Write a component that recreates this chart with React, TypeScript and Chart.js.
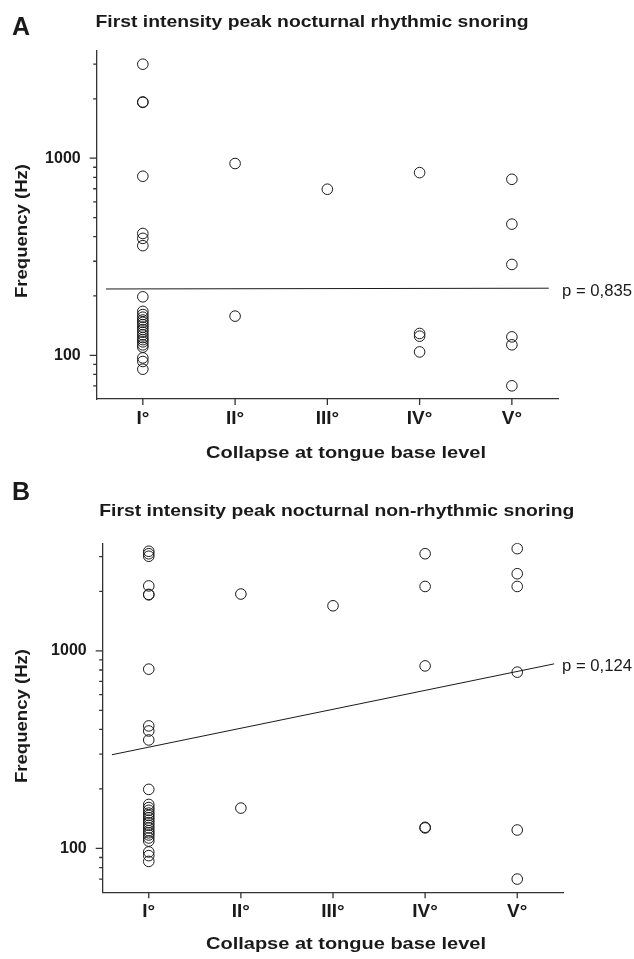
import React, { useEffect, useRef } from 'react';
import { Chart, registerables } from 'chart.js';

Chart.register(...registerables);

const FONT = '"Liberation Sans", Arial, Helvetica, sans-serif';

// Categories on the x axis (collapse grade at tongue base level)
const categories = ['I°', 'II°', 'III°', 'IV°', 'V°'];

// Log-axis tick values
const yLabelTicks = [100, 1000];
const yMinorTicks = [70, 80, 90, 200, 300, 400, 500, 600, 700, 800, 900, 2000, 3000];

// Panel A – rhythmic snoring, first intensity peak (Hz)
const rhythmicI = [3000, 1930, 1920, 810, 415, 392, 360, 198, 167, 161, 156, 151, 147, 143, 139, 135, 131, 127, 123, 120, 117, 113, 110, 97, 93, 85];
const rhythmicII = [940, 158];
const rhythmicIII = [696];
const rhythmicIV = [845, 129, 125, 104];
const rhythmicV = [782, 463, 289, 124, 113, 70];
const rhythmicFitX = [-0.4, 4.4];
const rhythmicFitY = [217, 219];

// Panel B – non-rhythmic snoring, first intensity peak (Hz)
const nonRhythmicI = [3190, 3100, 3010, 2130, 1930, 1920, 808, 417, 393, 354, 199, 167, 161, 156, 151, 147, 143, 139, 135, 131, 127, 123, 120, 117, 113, 109, 96, 92, 86];
const nonRhythmicII = [1938, 160];
const nonRhythmicIII = [1690];
const nonRhythmicIV = [3100, 2117, 839, 128, 127];
const nonRhythmicV = [3288, 2455, 2117, 780, 124, 70];
const nonRhythmicFitX = [-0.4, 4.4];
const nonRhythmicFitY = [298, 859];

type TextSpec = {
  text: string;
  x: number;
  y: number;
  size: number;
  bold?: boolean;
  width?: number;
  rotate?: boolean;
};

type PanelSpec = {
  canvasTop: number;
  canvasHeight: number;
  area: { left: number; right: number; top: number; bottom: number };
  columns: number[][];
  fitX: number[];
  fitY: number[];
  texts: TextSpec[];
};

const panelA: PanelSpec = {
  canvasTop: 0,
  canvasHeight: 480,
  area: { left: 96.7, right: 558, top: 51, bottom: 399 },
  columns: [rhythmicI, rhythmicII, rhythmicIII, rhythmicIV, rhythmicV],
  fitX: rhythmicFitX,
  fitY: rhythmicFitY,
  texts: [
    { text: 'A', x: 12, y: 35, size: 25, bold: true },
    { text: 'First intensity peak nocturnal rhythmic snoring', x: 95.5, y: 27.3, size: 17, bold: true, width: 433 },
    { text: 'Frequency (Hz)', x: 27, y: 231, size: 17, bold: true, width: 134, rotate: true },
    { text: 'Collapse at tongue base level', x: 206, y: 458, size: 16, bold: true, width: 280 },
    { text: 'p = 0,835', x: 562, y: 296, size: 16, width: 70 },
  ],
};

const panelB: PanelSpec = {
  canvasTop: 480,
  canvasHeight: 479,
  area: { left: 102.7, right: 563.3, top: 543.3, bottom: 892.3 },
  columns: [nonRhythmicI, nonRhythmicII, nonRhythmicIII, nonRhythmicIV, nonRhythmicV],
  fitX: nonRhythmicFitX,
  fitY: nonRhythmicFitY,
  texts: [
    { text: 'B', x: 12, y: 500, size: 25, bold: true },
    { text: 'First intensity peak nocturnal non-rhythmic snoring', x: 99.3, y: 516, size: 17, bold: true, width: 475 },
    { text: 'Frequency (Hz)', x: 27, y: 716, size: 17, bold: true, width: 134, rotate: true },
    { text: 'Collapse at tongue base level', x: 206, y: 949, size: 16, bold: true, width: 280 },
    { text: 'p = 0,124', x: 562, y: 671, size: 16, width: 70 },
  ],
};

function drawText(ctx: CanvasRenderingContext2D, t: TextSpec, offsetY: number) {
  ctx.save();
  ctx.font = `${t.bold ? 'bold ' : ''}${t.size}px ${FONT}`;
  ctx.fillStyle = '#1a1a1a';
  ctx.textBaseline = 'alphabetic';
  const w = ctx.measureText(t.text).width;
  const sx = t.width ? t.width / w : 1;
  ctx.translate(t.x, t.y - offsetY);
  if (t.rotate) ctx.rotate(-Math.PI / 2);
  ctx.scale(sx, 1);
  ctx.textAlign = 'left';
  ctx.fillText(t.text, t.rotate ? -w / 2 : 0, 0);
  ctx.restore();
}

function makeChart(canvas: HTMLCanvasElement, p: PanelSpec) {
  const points: { x: number; y: number }[] = [];
  p.columns.forEach((col, i) => col.forEach((v) => points.push({ x: i, y: v })));
  const fit = p.fitX.map((x, i) => ({ x, y: p.fitY[i] }));
  const areaTop = p.area.top - p.canvasTop;
  const areaBottom = p.area.bottom - p.canvasTop;

  const overlay = {
    id: 'overlay',
    afterDraw(chart: any) {
      const ctx: CanvasRenderingContext2D = chart.ctx;
      const xs = chart.scales.x;
      const ys = chart.scales.y;
      ctx.save();
      ctx.strokeStyle = '#333';
      ctx.lineWidth = 1.3;
      ctx.beginPath();
      yLabelTicks.forEach((v) => {
        const y = ys.getPixelForValue(v);
        ctx.moveTo(ys.right - 7, y);
        ctx.lineTo(ys.right, y);
      });
      yMinorTicks.forEach((v) => {
        const y = ys.getPixelForValue(v);
        ctx.moveTo(ys.right - 3.5, y);
        ctx.lineTo(ys.right, y);
      });
      categories.forEach((_, i) => {
        const x = xs.getPixelForValue(i);
        ctx.moveTo(x, xs.top);
        ctx.lineTo(x, xs.top + 6);
      });
      ctx.stroke();
      ctx.restore();
      p.texts.forEach((t) => drawText(ctx, t, p.canvasTop));
    },
  };

  return new Chart(canvas, {
    type: 'scatter',
    data: {
      datasets: [
        {
          type: 'scatter',
          data: points,
          pointRadius: 5.3,
          pointHoverRadius: 5.3,
          pointBorderWidth: 1,
          borderColor: '#1a1a1a',
          backgroundColor: 'rgba(0,0,0,0)',
          pointStyle: 'circle',
        } as any,
        {
          type: 'line',
          data: fit,
          borderColor: '#1a1a1a',
          borderWidth: 1,
          pointRadius: 0,
          fill: false,
          tension: 0,
          showLine: true,
        } as any,
      ],
    },
    options: {
      animation: false,
      responsive: false,
      maintainAspectRatio: false,
      events: [],
      layout: {
        padding: { left: 0, right: 634 - p.area.right, top: areaTop, bottom: 0 },
      },
      plugins: {
        legend: { display: false },
        tooltip: { enabled: false },
        title: { display: false },
      },
      scales: {
        x: {
          type: 'linear',
          min: -0.5,
          max: 4.5,
          afterFit: (s: any) => {
            s.height = p.canvasHeight - areaBottom;
          },
          afterBuildTicks: (s: any) => {
            s.ticks = categories.map((_, i) => ({ value: i }));
          },
          ticks: {
            callback: (v: any) => categories[Math.round(Number(v))] ?? '',
            font: { family: FONT, size: 19, weight: 'bold' },
            color: '#1a1a1a',
            padding: 8,
            maxRotation: 0,
            autoSkip: false,
          },
          grid: { display: false, drawTicks: false },
          border: { display: true, color: '#333', width: 1.3 },
        },
        y: {
          type: 'logarithmic',
          min: 60,
          max: 3500,
          afterFit: (s: any) => {
            s.width = p.area.left;
          },
          afterBuildTicks: (s: any) => {
            s.ticks = yLabelTicks.map((v) => ({ value: v, major: true }));
          },
          ticks: {
            callback: (v: any) => String(v),
            font: { family: FONT, size: 16, weight: 'bold' },
            color: '#1a1a1a',
            padding: 16,
            autoSkip: false,
          },
          grid: { display: false, drawTicks: false },
          border: { display: true, color: '#333', width: 1.3 },
        },
      },
    } as any,
    plugins: [overlay],
  });
}

function Panel({ spec }: { spec: PanelSpec }) {
  const ref = useRef<HTMLCanvasElement | null>(null);
  useEffect(() => {
    if (!ref.current) return;
    const chart = makeChart(ref.current, spec);
    return () => chart.destroy();
  }, [spec]);
  return (
    <canvas
      ref={ref}
      width={634}
      height={spec.canvasHeight}
      style={{ position: 'absolute', left: 0, top: spec.canvasTop, width: 634, height: spec.canvasHeight }}
    />
  );
}

export default function App() {
  return (
    <div style={{ position: 'absolute', left: 0, top: 0, width: 634, height: 959, background: '#fff' }}>
      <Panel spec={panelA} />
      <Panel spec={panelB} />
    </div>
  );
}
